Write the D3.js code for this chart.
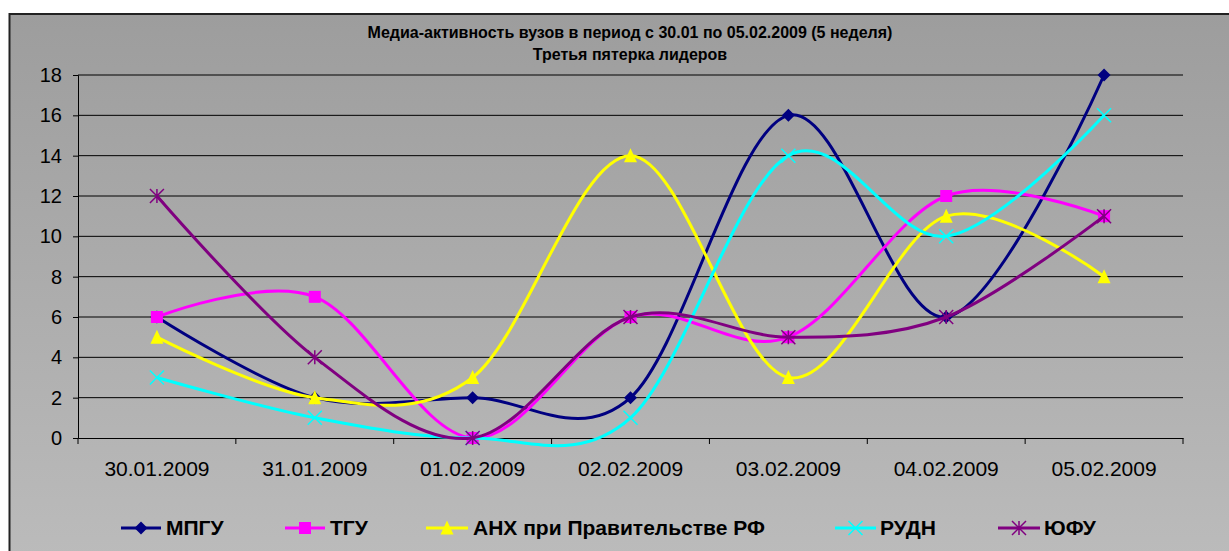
<!DOCTYPE html>
<html>
<head>
<meta charset="utf-8">
<script src="https://cdn.jsdelivr.net/npm/d3@7"></script>
<style>
  html, body { margin: 0; padding: 0; background: #fff; }
  svg { display: block; font-family: "Liberation Sans", Arial, sans-serif; }
</style>
</head>
<body>
<svg id="chart" width="1229" height="551"></svg>
<script>
// data
const dates = ["30.01.2009", "31.01.2009", "01.02.2009", "02.02.2009", "03.02.2009", "04.02.2009", "05.02.2009"];
const seriesNames = ["МПГУ", "ТГУ", "АНХ при Правительстве РФ", "РУДН", "ЮФУ"];
const mpgu = [6, 2, 2, 2, 16, 6, 18];
const tgu = [6, 7, 0, 6, 5, 12, 11];
const anh = [5, 2, 3, 14, 3, 11, 8];
const rudn = [3, 1, 0, 1, 14, 10, 16];
const yufu = [12, 4, 0, 6, 5, 6, 11];
const yTicks = [0, 2, 4, 6, 8, 10, 12, 14, 16, 18];
const titleLines = ["Медиа-активность вузов в период с 30.01 по 05.02.2009 (5 неделя)", "Третья пятерка лидеров"];

const colors = ["#000080", "#ff00ff", "#ffff00", "#00ffff", "#800080"];
const markers = ["diamond", "square", "triangle", "cross", "star"];
const values = [mpgu, tgu, anh, rudn, yufu];

const svg = d3.select("#chart");

// chart area background
const defs = svg.append("defs");
const grad = defs.append("linearGradient")
    .attr("id", "bg").attr("x1", 0).attr("y1", 0).attr("x2", 0).attr("y2", 1);
grad.append("stop").attr("offset", "0%").attr("stop-color", "#9d9d9d");
grad.append("stop").attr("offset", "100%").attr("stop-color", "#bcbcbc");

svg.append("rect")
    .attr("x", 9.5).attr("y", 14)
    .attr("width", 1240).attr("height", 560)
    .attr("fill", "url(#bg)")
    .attr("stroke", "#222").attr("stroke-width", 2);

// title
const title = svg.append("text")
    .attr("text-anchor", "middle")
    .attr("font-weight", "bold")
    .attr("font-size", 16);
titleLines.forEach((t, i) => {
    title.append("tspan").attr("x", 630).attr("y", 38 + i * 22).text(t);
});

const plotLeft = 78, plotRight = 1183, plotTop = 75, plotBottom = 438;

const x = d3.scaleBand().domain(dates).range([plotLeft, plotRight]);
const y = d3.scaleLinear().domain([0, 18]).range([plotBottom, plotTop]);

// gridlines
svg.append("g")
    .selectAll("line")
    .data(yTicks.filter(d => d > 0))
    .enter()
    .append("line")
    .attr("x1", plotLeft).attr("x2", plotRight)
    .attr("y1", d => y(d)).attr("y2", d => y(d))
    .attr("stroke", "#000").attr("stroke-width", 1);

// y axis
const yAxis = svg.append("g")
    .attr("transform", "translate(" + plotLeft + ",0)")
    .call(d3.axisLeft(y).tickValues(yTicks).tickSize(5).tickPadding(11));
yAxis.select(".domain").attr("stroke", "#000");
yAxis.selectAll("text")
    .attr("font-size", 20).attr("fill", "#000")
    .attr("font-family", "Liberation Sans, Arial, sans-serif");

// x axis
const xAxis = svg.append("g")
    .attr("transform", "translate(0," + plotBottom + ")")
    .call(d3.axisBottom(x).tickSize(0).tickPadding(23));
xAxis.select(".domain").attr("stroke", "#000");
xAxis.selectAll("text")
    .attr("font-size", 21).attr("fill", "#000")
    .attr("font-family", "Liberation Sans, Arial, sans-serif");
// tick marks between categories
xAxis.selectAll(".sep")
    .data(d3.range(dates.length + 1))
    .enter()
    .append("line")
    .attr("x1", i => plotLeft + i * x.step()).attr("x2", i => plotLeft + i * x.step())
    .attr("y1", 0).attr("y2", 6)
    .attr("stroke", "#000");

function drawMarker(g, type, color, size) {
    const s = size / 2;
    if (type === "diamond") {
        g.append("path").attr("d", `M0,${-s}L${s},0L0,${s}L${-s},0Z`).attr("fill", color);
    } else if (type === "square") {
        g.append("rect").attr("x", -s + 0.5).attr("y", -s + 0.5)
            .attr("width", size - 1).attr("height", size - 1).attr("fill", color);
    } else if (type === "triangle") {
        g.append("path").attr("d", `M0,${-s - 1}L${s},${s}L${-s},${s}Z`).attr("fill", color);
    } else if (type === "cross") {
        g.append("path").attr("d", `M${-s},${-s}L${s},${s}M${-s},${s}L${s},${-s}`)
            .attr("stroke", color).attr("stroke-width", 1.5);
    } else if (type === "star") {
        g.append("path").attr("d", `M${-s},${-s}L${s},${s}M${-s},${s}L${s},${-s}M0,${-s}L0,${s}`)
            .attr("stroke", color).attr("stroke-width", 1.5);
    }
}

const line = d3.line()
    .x((d, i) => x(dates[i]) + x.bandwidth() / 2)
    .y(d => y(d))
    .curve(d3.curveCardinal.tension(0));

values.forEach((vals, k) => {
    const g = svg.append("g");
    g.append("path")
        .datum(vals)
        .attr("d", line)
        .attr("fill", "none")
        .attr("stroke", colors[k])
        .attr("stroke-width", 3)
        .attr("stroke-linejoin", "round");
    vals.forEach((v, i) => {
        const m = g.append("g")
            .attr("transform", "translate(" + (x(dates[i]) + x.bandwidth() / 2) + "," + y(v) + ")");
        drawMarker(m, markers[k], colors[k], markers[k] === "cross" || markers[k] === "star" ? 14 : 13);
    });
});

// legend
const legendItems = [
    { x0: 121, x1: 161, tx: 166 },
    { x0: 285, x1: 325, tx: 330 },
    { x0: 426, x1: 468, tx: 473 },
    { x0: 835, x1: 876, tx: 880 },
    { x0: 998, x1: 1040, tx: 1044 }
];
const ly = 528;
const legend = svg.append("g");
seriesNames.forEach((name, k) => {
    const it = legendItems[k];
    const g = legend.append("g");
    g.append("line")
        .attr("x1", it.x0).attr("x2", it.x1)
        .attr("y1", ly).attr("y2", ly)
        .attr("stroke", colors[k]).attr("stroke-width", 3);
    const m = g.append("g").attr("transform", "translate(" + ((it.x0 + it.x1) / 2) + "," + ly + ")");
    drawMarker(m, markers[k], colors[k], markers[k] === "cross" || markers[k] === "star" ? 14 : 13);
    g.append("text")
        .attr("x", it.tx).attr("y", ly + 7)
        .attr("font-size", 21).attr("font-weight", "bold")
        .text(name);
});
</script>
</body>
</html>
